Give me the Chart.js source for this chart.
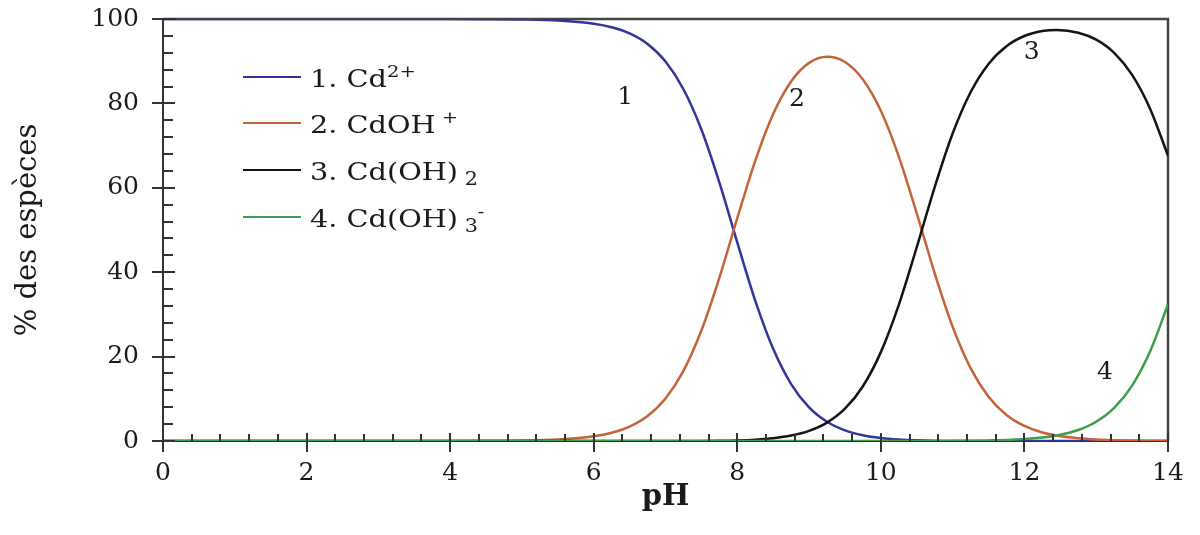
<!DOCTYPE html>
<html lang="fr">
<head>
<meta charset="utf-8">
<title>Distribution des espèces du cadmium en fonction du pH</title>
<script src="https://cdn.jsdelivr.net/npm/chart.js@4.4.1/dist/chart.umd.min.js"></script>
<style>
  html, body { margin: 0; padding: 0; background: #ffffff; }
  canvas { display: block; }
</style>
</head>
<body>
<canvas id="chart" width="1200" height="535"></canvas>
<script>
// pH grid of the distribution curves
const pH = [0, 1, 2, 3, 4, 4.5, 5, 5.5, 6, 6.25, 6.5, 6.75, 7, 7.25, 7.5, 7.75,
  8, 8.25, 8.5, 8.75, 9, 9.25, 9.5, 9.75, 10, 10.25, 10.5, 10.75, 11, 11.25, 11.5, 11.75,
  12, 12.25, 12.45, 12.75, 13, 13.25, 13.5, 13.75, 14];

// % of each species at those pH values
const cdFree = [100, 100, 100, 100, 99.99, 99.96, 99.89, 99.65, 98.89, 98.04, 96.57, 94.06,
  89.91, 83.36, 73.80, 61.27, 47.06, 33.28, 21.84, 13.50, 7.99, 4.57, 2.53, 1.36,
  0.70, 0.34, 0.15, 0.06, 0.02, 0, 0, 0, 0, 0, 0, 0, 0, 0, 0, 0, 0];
const cdOH = [0, 0, 0, 0, 0.01, 0.04, 0.11, 0.35, 1.11, 1.96, 3.43, 5.94,
  10.09, 16.63, 26.18, 38.66, 52.80, 66.40, 77.50, 85.21, 89.60, 91.07, 89.82, 85.68,
  78.24, 67.40, 53.94, 39.75, 27.07, 17.27, 10.50, 6.18, 3.57, 2.03, 1.28, 0.64,
  0.35, 0.19, 0.10, 0.05, 0.03];
const cdOH2 = [0, 0, 0, 0, 0, 0, 0, 0, 0, 0, 0, 0,
  0, 0.01, 0.02, 0.06, 0.14, 0.32, 0.66, 1.29, 2.41, 4.36, 7.65, 12.97,
  21.06, 32.26, 45.91, 60.17, 72.87, 82.65, 89.36, 93.56, 95.97, 97.14, 97.40, 96.76,
  95.10, 91.98, 86.76, 78.76, 67.62];
const cdOH3 = [0, 0, 0, 0, 0, 0, 0, 0, 0, 0, 0, 0,
  0, 0, 0, 0, 0, 0, 0, 0, 0, 0, 0, 0,
  0, 0, 0.01, 0.02, 0.03, 0.07, 0.14, 0.25, 0.46, 0.83, 1.31, 2.60,
  4.55, 7.83, 13.13, 21.19, 32.35];

// axis ticks
const pHTicks = [0, 2, 4, 6, 8, 10, 12, 14];
const pctTicks = [0, 20, 40, 60, 80, 100];

// legend entries: [text, kind] with kind '' | 'sup' | 'sub'
const legendParts = [
  [['1. Cd', ''], ['2+', 'sup']],
  [['2. CdOH', ''], [' +', 'sup']],
  [['3. Cd(OH)', ''], [' 2', 'sub']],
  [['4. Cd(OH)', ''], [' 3', 'sub'], ['-', 'sup']]
];
const seriesColors = ['#34349a', '#c4643a', '#141414', '#3c9e48'];

// curve numbers placed beside each curve (data coordinates)
const curveTags = ['1', '2', '3', '4'];
const curveTagPH = [6.44, 8.83, 12.1, 13.12];
const curveTagPct = [81.5, 81, 92, 16.3];

const SERIF = '"DejaVu Serif", "Liberation Serif", serif';
const INK = '#1a1a1a';

const toPoints = vals => pH.map((x, i) => ({ x: x, y: vals[i] }));
const seriesValues = [cdFree, cdOH, cdOH2, cdOH3];

const datasets = seriesValues.map((vals, i) => ({
  label: legendParts[i].map(p => p[0]).join(''),
  data: toPoints(vals),
  borderColor: seriesColors[i],
  borderWidth: 2.5,
  pointRadius: 0,
  fill: false,
  cubicInterpolationMode: 'monotone',
  order: 4 - i
}));

function drawRich(ctx, parts, x, baseline, size, stretch) {
  ctx.save();
  ctx.translate(x, baseline);
  ctx.scale(stretch, 1);
  let cx = 0;
  ctx.fillStyle = INK;
  ctx.textBaseline = 'alphabetic';
  ctx.textAlign = 'left';
  for (const [txt, kind] of parts) {
    let fs = size, dy = 0;
    if (kind === 'sup') { fs = Math.round(size * 0.66); dy = -size * 0.42; }
    if (kind === 'sub') { fs = Math.round(size * 0.7); dy = size * 0.2; }
    ctx.font = fs + 'px ' + SERIF;
    ctx.fillText(txt, cx, dy);
    cx += ctx.measureText(txt).width;
  }
  ctx.restore();
}

const decor = {
  id: 'decor',
  beforeDatasetsDraw(chart) {
    const { ctx, chartArea: a } = chart;
    ctx.save();
    ctx.strokeStyle = '#444444';
    ctx.lineWidth = 2.5;
    ctx.beginPath();
    ctx.moveTo(a.left, a.top);
    ctx.lineTo(a.right, a.top);
    ctx.lineTo(a.right, a.bottom);
    ctx.stroke();
    ctx.restore();
  },
  afterDatasetsDraw(chart) {
    const { ctx, chartArea: a, scales } = chart;
    ctx.save();
    ctx.strokeStyle = '#333333';
    ctx.lineWidth = 2;
    ctx.beginPath();
    // x ticks: minor every 0.4 pH, pointing inwards
    for (let i = 0; i <= 35; i++) {
      const px = Math.round(scales.x.getPixelForValue(i * 2 / 5));
      if (i % 5 === 0) { ctx.moveTo(px, a.bottom - 8); ctx.lineTo(px, a.bottom + 11); }
      else { ctx.moveTo(px, a.bottom); ctx.lineTo(px, a.bottom - 7); }
    }
    // y ticks: minor every 4 %
    for (let i = 0; i <= 25; i++) {
      const py = Math.round(scales.y.getPixelForValue(i * 4));
      if (i % 5 === 0) { ctx.moveTo(a.left - 11, py); ctx.lineTo(a.left + 12, py); }
      else { ctx.moveTo(a.left, py); ctx.lineTo(a.left + 10, py); }
    }
    ctx.stroke();
    ctx.restore();
  },
  afterDraw(chart) {
    const { ctx, chartArea: a, scales } = chart;
    ctx.save();
    ctx.fillStyle = INK;

    // curve numbers
    ctx.font = '25px ' + SERIF;
    ctx.textAlign = 'center';
    ctx.textBaseline = 'middle';
    curveTags.forEach((t, i) => {
      ctx.fillText(t, scales.x.getPixelForValue(curveTagPH[i]), scales.y.getPixelForValue(curveTagPct[i]));
    });

    // legend
    const lx0 = a.left + 80, lx1 = a.left + 138, tx = a.left + 147;
    const lineY = [a.top + 58, a.top + 104, a.top + 151, a.top + 198];
    legendParts.forEach((parts, i) => {
      ctx.strokeStyle = seriesColors[i];
      ctx.lineWidth = 2.2;
      ctx.beginPath();
      ctx.moveTo(lx0, lineY[i]);
      ctx.lineTo(lx1, lineY[i]);
      ctx.stroke();
      drawRich(ctx, parts, tx, lineY[i] + 10, 25, 1.15);
    });

    // axis titles
    ctx.font = 'bold 29px ' + SERIF;
    ctx.textAlign = 'center';
    ctx.textBaseline = 'middle';
    ctx.fillText('pH', (a.left + a.right) / 2, 497);

    ctx.translate(28, (a.top + a.bottom) / 2);
    ctx.rotate(-Math.PI / 2);
    ctx.font = '29px ' + SERIF;
    ctx.fillText('% des espèces', 0, 0);
    ctx.restore();
  }
};

const tickFont = { family: SERIF, size: 25 };

new Chart(document.getElementById('chart'), {
  type: 'line',
  data: { datasets },
  plugins: [decor],
  options: {
    responsive: false,
    animation: false,
    devicePixelRatio: 1,
    layout: { padding: { top: 19, right: 32, left: 0, bottom: 0 } },
    plugins: { legend: { display: false }, tooltip: { enabled: false } },
    scales: {
      x: {
        type: 'linear',
        min: 0, max: 14,
        afterBuildTicks: s => { s.ticks = pHTicks.map(v => ({ value: v })); },
        afterFit: s => { s.height = 94; s.paddingLeft = 0; s.paddingRight = 0; },
        ticks: { font: tickFont, color: INK, padding: 17, maxRotation: 0, autoSkip: false },
        grid: { display: false, drawTicks: false },
        border: { display: true, color: '#333333', width: 2 }
      },
      y: {
        type: 'linear',
        min: 0, max: 100,
        afterBuildTicks: s => { s.ticks = pctTicks.map(v => ({ value: v })); },
        afterFit: s => { s.width = 163; s.paddingTop = 0; s.paddingBottom = 0; },
        ticks: { font: tickFont, color: INK, padding: 24, autoSkip: false },
        grid: { display: false, drawTicks: false },
        border: { display: true, color: '#333333', width: 2 }
      }
    }
  }
});
</script>
</body>
</html>
